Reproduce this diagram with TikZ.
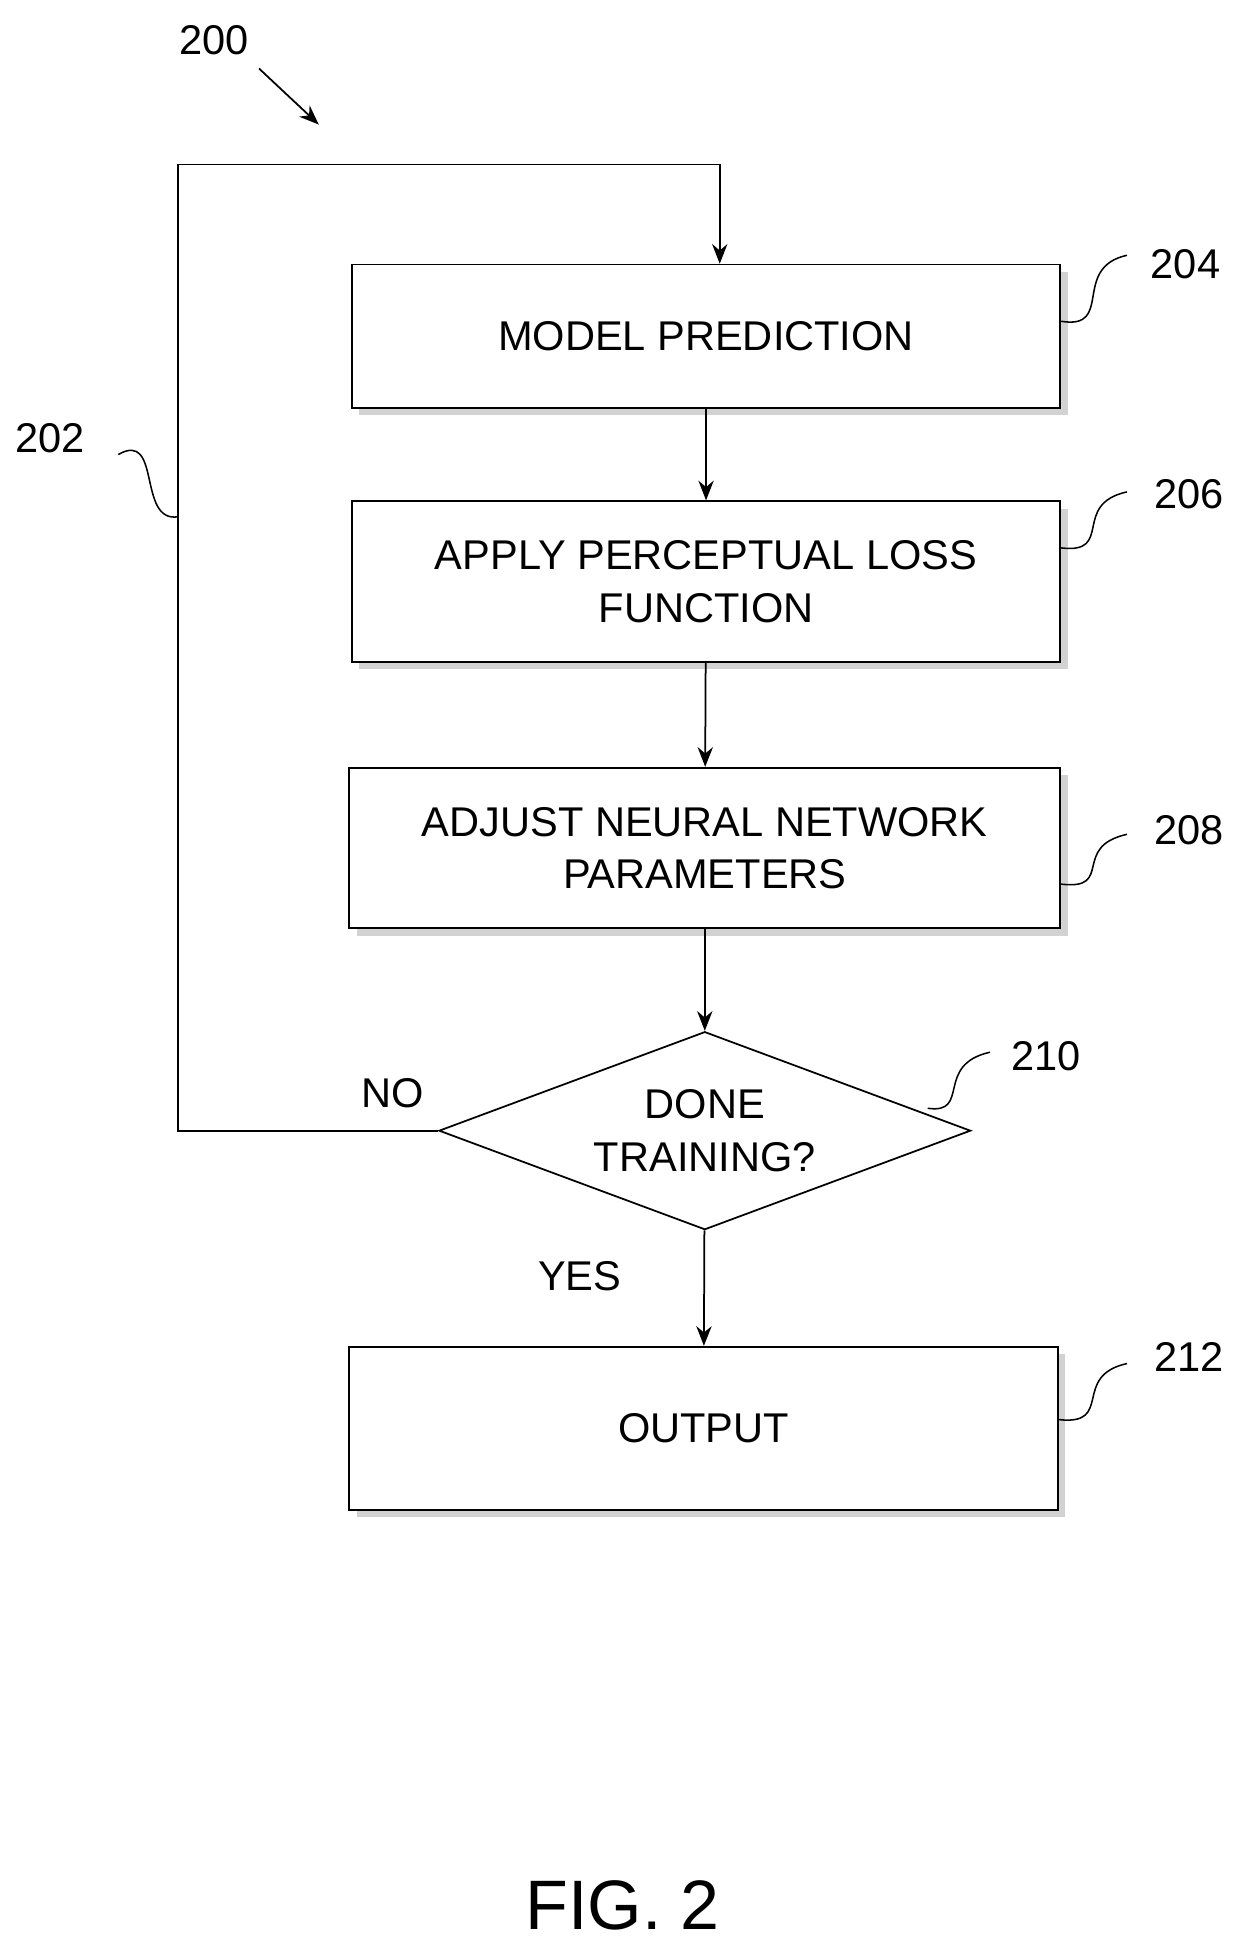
\documentclass[tikz,border=0pt]{standalone}
\usepackage{fontspec}
\setmainfont{Liberation Sans}
\usetikzlibrary{arrows.meta}
\usetikzlibrary{shapes.geometric}
\usetikzlibrary{shadows}
\begin{document}
\begin{tikzpicture}[line width=0.8pt, font=\fontsize{19}{24}\selectfont,
        step_style/.style={rectangle,draw=black,fill=white,minimum width=11.38cm,minimum height=2.58cm,align=center,
            drop shadow={shadow xshift=0.12cm,shadow yshift=-0.12cm,fill=black!35}},
        test_style/.style={diamond,draw=black,fill=white,minimum width=8.54cm,minimum height=3.18cm,aspect=2.7,align=center,inner sep=0pt},
        flow_style/.style={draw=black,-{Stealth[length=9pt,width=7pt]}},
        lead_style/.style={draw=black,line width=0.7pt}]

        \useasboundingbox (0,0) rectangle (20,-31.48);

        \node [step_style,minimum height=2.3cm](s204) at (11.34,-5.4) {MODEL PREDICTION};
        \node [step_style](s206) at (11.34,-9.34) {APPLY PERCEPTUAL LOSS\\FUNCTION};
        \node [step_style,minimum width=11.42cm](s208) at (11.32,-13.62) {ADJUST NEURAL NETWORK\\PARAMETERS};
        \node [test_style](d210) at (11.32,-18.16) {DONE\\TRAINING?};
        \node [step_style,minimum height=2.62cm](s212) at (11.3,-22.94) {OUTPUT};

        \draw [flow_style] (s204) -- (s206);
        \draw [flow_style] (s206) -- (s208);
        \draw [flow_style] (s208) -- (d210);
        \draw [flow_style] (d210) -- node[left=1.2cm,pos=0.4]{YES} (s212);
        \coordinate (c1) at (2.86,-18.16);
        \coordinate (c2) at (2.86,-2.64);
        \coordinate (c3) at (11.56,-2.64);
        \draw [flow_style] (d210.west) -- (c1) -- (c2) -- (c3) -- (c3 |- s204.north);
        \node (no) at (6.3,-17.56) {NO};

        % reference numerals
        \node (l200) at (3.44,-0.64) {200};
        \coordinate (a200) at (5.12,-2.0);
        \draw [flow_style] (4.16,-1.1) -- (a200);
        \node (l202) at (0.8,-7.04) {202};
        \draw [lead_style] (1.9,-7.3) .. controls (2.6,-6.9) and (2.2,-8.4) .. (2.86,-8.3);
        \node (l204) at (19.04,-4.24) {204};
        \draw [lead_style] (18.1,-4.1) .. controls (17.2,-4.3) and (17.9,-5.3) .. (s204.east |- 0,-5.16);
        \node (l206) at (19.1,-7.94) {206};
        \draw [lead_style] (18.1,-7.9) .. controls (17.2,-8.1) and (17.9,-8.9) .. (s206.east |- 0,-8.8);
        \node (l208) at (19.1,-13.34) {208};
        \draw [lead_style] (18.1,-13.4) .. controls (17.2,-13.6) and (17.9,-14.3) .. (s208.east |- 0,-14.2);
        \node (l210) at (16.8,-16.96) {210};
        \draw [lead_style] (15.9,-16.9) .. controls (15.0,-17.1) and (15.6,-17.9) .. (14.9,-17.8);
        \node (l212) at (19.1,-21.8) {212};
        \draw [lead_style] (18.1,-21.9) .. controls (17.2,-22.1) and (17.9,-22.9) .. (s212.east |- 0,-22.8);

        \node [font=\fontsize{32}{38}\selectfont](fig) at (10,-30.6) {FIG. 2};
\end{tikzpicture}
\end{document}
